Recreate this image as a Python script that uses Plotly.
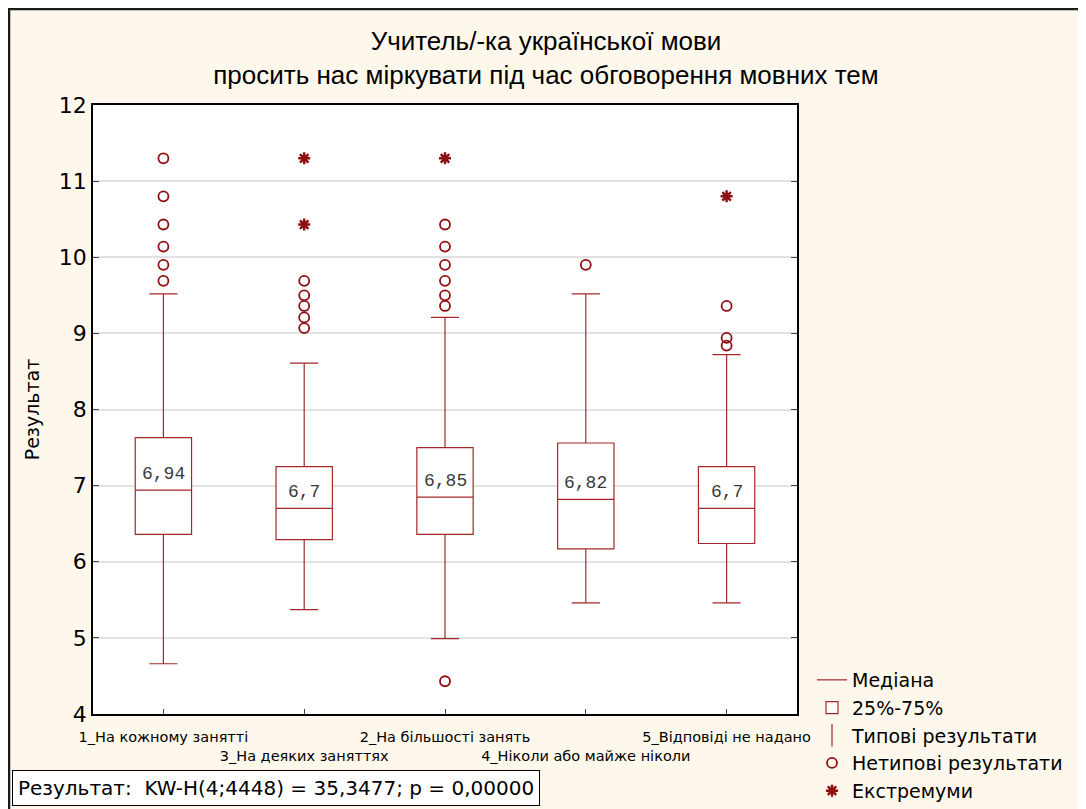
import plotly.graph_objects as go

# ---------------- data ----------------
categories = ["1_На кожному занятті", "3_На деяких заняттях", "2_На більшості занять",
              "4_Ніколи або майже ніколи", "5_Відповіді не надано"]
tick_labels = ["1_На кожному занятті", "<br>3_На деяких заняттях", "2_На більшості занять",
               "<br>4_Ніколи або майже ніколи", "5_Відповіді не надано"]
medians = [6.94, 6.70, 6.85, 6.82, 6.70]
q1 = [6.36, 6.29, 6.36, 6.17, 6.24]
q3 = [7.63, 7.25, 7.50, 7.56, 7.25]
whisker_low = [4.66, 5.37, 4.99, 5.46, 5.46]
whisker_high = [9.52, 8.61, 9.21, 9.52, 8.72]
outliers = [
    [11.30, 10.80, 10.43, 10.14, 9.90, 9.69],
    [9.69, 9.50, 9.36, 9.21, 9.07],
    [10.43, 10.14, 9.90, 9.69, 9.50, 9.36, 4.43],
    [9.90],
    [9.36, 8.94, 8.84],
]
extremes = [[], [11.30, 10.43], [11.30], [], [10.80]]
title_lines = ["Учитель/-ка української мови", "просить нас міркувати під час обговорення мовних тем"]
stat_text = "Результат:\u00a0 KW-H(4;4448) = 35,3477; p = 0,00000"

BOX_COLOR = "#A3282B"
MARK_COLOR = "#8E0F12"
FONT = "Liberation Sans, Arial, sans-serif"
WIDE = "DejaVu Sans, Verdana, sans-serif"

out_x = [c for c, vals in zip(categories, outliers) for _ in vals]
out_y = [v for vals in outliers for v in vals]
ext_x = [c for c, vals in zip(categories, extremes) for _ in vals]
ext_y = [v for vals in extremes for v in vals]

# plot-area geometry (figure pixels)
L, R, T, B = 85, 789, 97, 706
PW, PH = R - L, B - T

fig = go.Figure()

# legend-only median entry
fig.add_trace(go.Scatter(x=[None], y=[None], mode="lines", name="Медіана",
                         line=dict(color=BOX_COLOR, width=1.2)))

fig.add_trace(go.Box(
    x=categories, q1=q1, median=medians, q3=q3,
    lowerfence=whisker_low, upperfence=whisker_high,
    boxpoints=False, name="25%-75%",
    width=0.4, whiskerwidth=0.5,
    line=dict(color=BOX_COLOR, width=1.2), fillcolor="white",
))

# legend-only whisker entry
fig.add_trace(go.Scatter(x=[None], y=[None], mode="markers", name="Типові результати",
                         marker=dict(symbol="line-ns-open", size=20, color=BOX_COLOR,
                                     line=dict(color=BOX_COLOR, width=1.2))))

fig.add_trace(go.Scatter(x=out_x, y=out_y, mode="markers", name="Нетипові результати",
                         marker=dict(symbol="circle-open", size=10, color=MARK_COLOR,
                                     line=dict(color=MARK_COLOR, width=1.8))))
fig.add_trace(go.Scatter(x=ext_x, y=ext_y, mode="markers", name="Екстремуми",
                         marker=dict(symbol="asterisk-open", size=10, color=MARK_COLOR,
                                     line=dict(color=MARK_COLOR, width=2.5))))

# median labels
for c, m in zip(categories, medians):
    fig.add_annotation(x=c, y=m, xref="x", yref="y",
                       text=("%g" % m).replace(".", ","), showarrow=False,
                       yanchor="bottom", yshift=4,
                       font=dict(family="Liberation Mono, Courier New, monospace",
                                 size=18, color="#3a3a3a"))

# stat annotation box
fig.add_annotation(text=stat_text, xref="paper", yref="paper",
                   x=(4 - L) / PW, y=(B - 798) / PH,
                   xanchor="left", yanchor="bottom", showarrow=False,
                   font=dict(family=WIDE, size=20, color="black"),
                   bgcolor="white", bordercolor="black", borderwidth=1, borderpad=5)

# figure border (top/left visible)
fig.add_shape(type="rect", xref="paper", yref="paper", layer="below",
              x0=(1 - L) / PW, x1=(1100 - L) / PW,
              y0=(B - 830) / PH, y1=(B - 1) / PH,
              fillcolor="rgba(0,0,0,0)", line=dict(color="#1a1a1a", width=2.5))

fig.update_layout(
    template="none",
    width=1086, height=809,
    margin=dict(l=L, r=1086 - R, t=T, b=809 - B, autoexpand=False),
    paper_bgcolor="#FEF8EC", plot_bgcolor="white",
    font=dict(family=FONT, color="black"),
    title=dict(text="<br>".join(title_lines), x=538 / 1086, xref="container", xanchor="center",
               y=1 - 42 / 809, yanchor="top", yref="container",
               font=dict(family=FONT, size=26, color="black")),
    showlegend=True,
    legend=dict(xref="container", yref="container",
                x=804 / 1086, y=1 - 653 / 809, xanchor="left", yanchor="top",
                font=dict(family=WIDE, size=19, color="black"),
                bgcolor="rgba(0,0,0,0)", itemwidth=30, tracegroupgap=0),
)

fig.update_xaxes(type="category", tickmode="array", tickvals=categories, ticktext=tick_labels,
                 tickangle=0, automargin=False, ticklabelstandoff=9,
                 tickfont=dict(family=WIDE, size=14.5, color="black"),
                 ticks="inside", ticklen=5, tickcolor="#444",
                 showline=True, linecolor="black", linewidth=1.5, mirror=True,
                 showgrid=False, range=[-0.5, 4.5])
fig.update_yaxes(range=[4, 12], dtick=1, tick0=4, automargin=False,
                 tickfont=dict(family=WIDE, size=22, color="black"),
                 ticks="inside", ticklen=6, tickcolor="#444",
                 showline=True, linecolor="black", linewidth=1.5, mirror="ticks",
                 showgrid=True, gridcolor="#E2E2E2", gridwidth=1.5, zeroline=False,
                 title=dict(text="Результат", font=dict(family=WIDE, size=19, color="black"),
                            standoff=14))

fig.write_html("out.html")
